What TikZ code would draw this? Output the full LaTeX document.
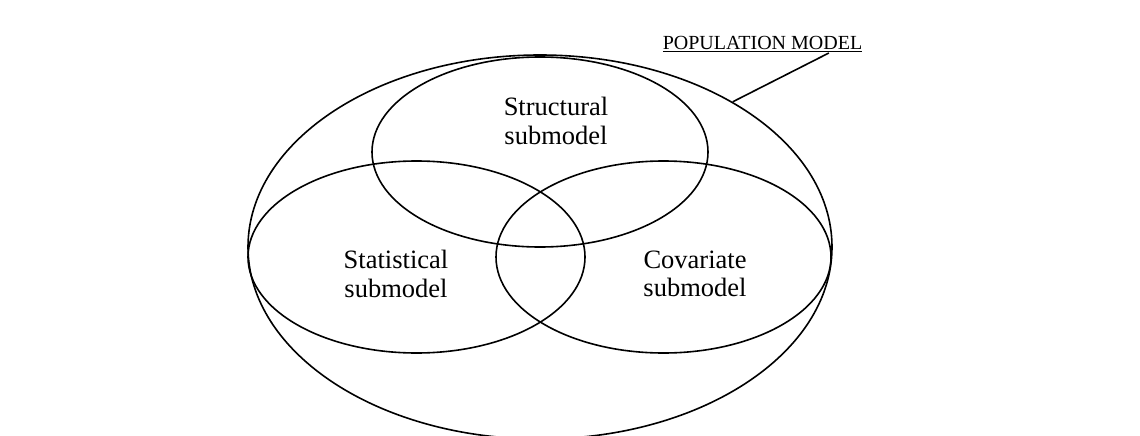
\documentclass[tikz,border=0pt]{standalone}
\usepackage{fontspec}
\setmainfont{Liberation Serif}
\usetikzlibrary{shapes.geometric,calc}

\begin{document}
\begin{tikzpicture}[x=1pt,y=-1pt,line width=1.6pt,
  submodel/.style={draw,ellipse,inner sep=0pt},
  subtext/.style={align=center,font=\fontsize{26.5}{28.5}\selectfont}]
\useasboundingbox (0,0) rectangle (1140,436);
% outer model and the three submodels
\node[submodel,minimum width=584pt,minimum height=384pt] (popm) at (540,247) {};
\node[submodel,minimum width=336pt,minimum height=190pt] (struct) at (540,152) {};
\node[submodel,minimum width=337pt,minimum height=192pt] (stat) at (416.5,257) {};
\node[submodel,minimum width=335pt,minimum height=192pt] (covar) at (663.5,257) {};
% texts
\node[subtext] (structtxt) at (556,121) {Structural\\submodel};
\node[subtext] (stattxt) at (396,274) {Statistical\\submodel};
\node[subtext] (covartxt) at (695,274) {Covariate\\submodel};
\node[anchor=base west,inner sep=0pt,font=\fontsize{20}{21}\selectfont] (poplabel) at (662,50) {\underline{POPULATION MODEL}};
\draw (popm.37) -- ($(poplabel.south west)!0.83!(poplabel.south east)$);
\end{tikzpicture}
\end{document}
